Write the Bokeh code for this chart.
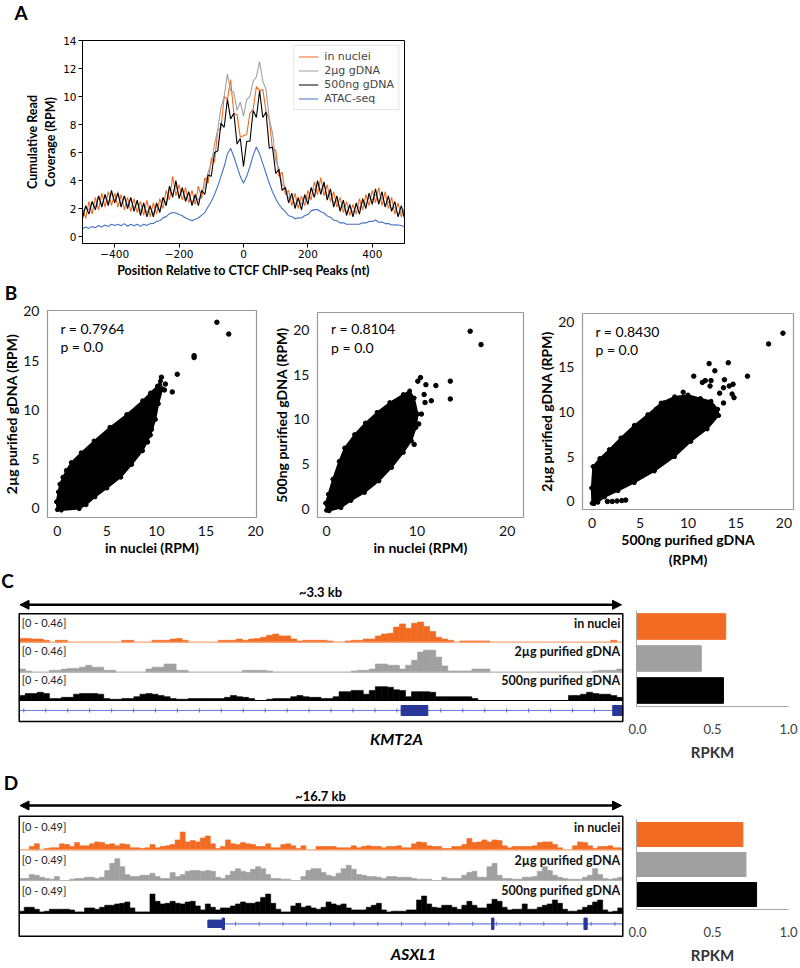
import numpy as np
from bokeh.plotting import figure
from bokeh.layouts import column, row
from bokeh.models import Range1d, FixedTicker, PrintfTickFormatter, Arrow, NormalHead
from bokeh.core.properties import value
from bokeh.embed import file_html
from bokeh.resources import INLINE

ORANGE = "#F26B23"; ORANGE_LT = "#F6A272"
GRAY = "#A0A0A0"; GRAY_LT = "#B5B5B5"
BLACK = "#000000"; BLUE = "#4472C4"
GENE_LINE = "#6B7BD6"; GENE_EXON = "#27379A"
FONT = "Lato"

# ---------------- Panel A data ----------------
pos_nt = list(range(-500, 501, 10))
cov_in_nuclei = [2.0,1.3,2.5,1.6,2.8,1.9,3.1,2.1,3.2,2.2,
                 3.1,2.1,3.0,1.9,2.8,1.8,2.7,1.7,2.5,1.5,
                 2.6,1.4,2.4,1.6,2.7,2.0,3.3,2.6,4.3,2.9,
                 3.7,2.6,3.5,2.4,3.3,2.3,3.6,2.7,4.2,3.8,
                 5.6,5.3,7.6,7.7,10.0,9.8,11.2,8.8,8.7,7.1,
                 7.2,7.3,8.8,9.1,10.7,10.4,10.5,8.9,8.4,6.2,
                 6.2,4.3,4.6,3.0,3.3,2.2,3.1,2.0,2.9,2.2,
                 3.3,2.6,3.9,3.0,4.2,2.9,3.7,2.5,3.2,2.1,
                 2.8,1.7,2.5,1.5,2.3,1.6,2.7,1.9,3.0,2.2,
                 3.3,2.4,3.5,2.2,3.2,2.0,2.8,1.6,2.4,1.4,
                 2.1]
cov_2ug = [1.7,2.1,1.9,2.5,2.0,2.9,2.2,3.0,2.4,3.1,
           2.5,3.2,2.3,2.9,2.2,2.7,2.0,2.5,1.8,2.3,
           1.7,2.1,1.6,2.2,1.9,2.7,2.4,3.4,3.0,3.7,
           2.9,3.3,2.7,3.1,2.4,2.9,2.6,3.2,3.5,4.6,
           5.2,6.6,7.6,9.2,10.0,11.6,10.4,10.3,9.0,9.6,
           8.6,9.8,10.0,11.1,11.4,12.5,11.1,10.5,8.4,7.4,
           5.4,4.9,3.7,3.5,2.7,2.8,2.3,2.6,2.3,2.8,
           2.7,3.3,3.3,3.7,3.3,3.7,2.9,3.1,2.4,2.6,
           2.0,2.2,1.7,2.1,1.7,2.2,2.0,2.5,2.3,2.8,
           2.6,3.0,2.5,2.8,2.2,2.5,1.9,2.1,1.5,1.8,
           1.4]
cov_500ng = [1.3,2.2,1.6,2.5,1.9,2.9,2.1,3.0,2.2,3.3,
             2.4,3.1,2.1,2.9,2.0,2.8,1.8,2.6,1.5,2.4,
             1.4,2.2,1.4,2.4,1.7,2.8,2.2,3.6,2.8,4.0,
             2.7,3.5,2.5,3.2,2.2,3.0,2.2,3.3,3.0,4.4,
             4.3,6.0,6.1,8.1,7.8,9.8,8.4,8.8,6.6,7.0,
             5.0,6.8,6.8,9.0,8.5,10.4,8.5,8.9,6.3,6.4,
             4.5,4.8,3.3,3.5,2.4,3.1,2.0,2.8,1.9,3.0,
             2.3,3.5,2.8,4.0,3.0,3.9,2.6,3.4,2.1,2.9,
             1.8,2.6,1.5,2.3,1.4,2.4,1.6,2.7,2.0,3.1,
             2.3,3.4,2.3,3.2,2.1,2.9,1.8,2.5,1.4,2.2,
             1.3]
cov_atac = [0.55,0.68,0.58,0.72,0.63,0.78,0.68,0.83,0.72,0.88,
            0.78,0.88,0.77,0.92,0.73,0.88,0.77,0.88,0.72,0.88,
            0.78,0.92,0.93,1.08,1.12,1.33,1.42,1.63,1.72,1.68,
            1.57,1.48,1.32,1.23,1.12,1.23,1.32,1.53,1.72,2.13,
            2.5,3.0,3.6,4.3,5.0,5.9,6.3,5.7,5.0,4.3,
            3.8,4.3,5.0,5.8,6.4,5.9,5.2,4.5,3.8,3.2,
            2.7,2.3,2.0,1.78,1.48,1.43,1.27,1.33,1.32,1.48,
            1.57,1.83,1.92,1.93,1.77,1.68,1.47,1.38,1.17,1.13,
            0.97,0.98,0.87,0.88,0.87,0.88,0.87,0.98,0.97,1.08,
            1.07,1.18,1.02,1.03,0.92,0.93,0.82,0.83,0.82,0.78,
            0.7]
series_a_names = ["in nuclei", "2µg gDNA", "500ng gDNA", "ATAC-seq"]
a_xticks = [-400, -200, 0, 200, 400]
a_yticks = [0, 2, 4, 6, 8, 10, 12, 14]

# ---------------- Panel B data ----------------
b1_blob_x = [0.0,-0.1,0.1,0.25,0.55,0.9,1.4,2.4,3.7,5.3,7.0,8.6,9.4,10.1,10.4,
             10.6,10.2,9.9,9.4,8.6,7.5,6.4,5.0,3.8,2.9,2.2,0.4]
b1_blob_y = [-0.2,0.6,1.6,2.4,3.1,3.8,4.6,5.6,6.8,8.2,9.5,10.9,11.7,12.4,12.9,
             12.1,10.6,9.0,7.4,5.8,4.4,3.1,2.0,1.1,0.3,-0.1,-0.25]
b1_out_x = [16.1,17.3,13.8,13.8,12.1,11.6,10.8,10.9,10.5,9.1,9.3,10.2,9.5]
b1_out_y = [18.9,17.7,15.5,15.3,13.6,11.8,12.0,12.6,13.3,6.7,7.5,11.5,8.0]

b2_blob_x = [0.0,-0.1,0.2,0.7,1.4,2.0,3.1,4.3,5.6,7.0,8.5,9.2,
             9.7,10.1,9.9,9.4,8.5,7.2,5.8,4.2,2.7,1.6,0.3]
b2_blob_y = [-0.2,0.6,1.6,3.3,5.3,6.8,8.3,9.6,10.8,11.9,12.8,13.2,
             12.4,10.6,9.1,7.6,6.3,4.6,3.1,1.8,0.9,0.1,-0.25]
b2_out_x = [15.9,17.1,13.7,13.7,12.1,11.0,10.4,10.1,10.8,11.6,10.9,9.7,10.5,10.2]
b2_out_y = [19.9,18.4,14.3,12.3,13.8,13.9,14.7,14.3,12.8,12.1,11.9,7.2,10.6,9.5]

b3_blob_x = [0.0,-0.05,0.1,0.8,1.8,3.0,4.4,5.8,7.2,8.6,10.0,11.3,12.4,13.1,13.2,
             12.0,10.3,8.6,6.5,4.4,2.7,1.3,0.6,0.2]
b3_blob_y = [-0.2,1.5,3.9,4.8,5.8,7.1,8.5,9.7,11.0,11.7,11.9,11.5,11.2,10.3,9.6,
             8.1,6.7,5.0,3.4,2.1,1.2,0.5,-0.1,-0.25]
b3_out_x = [19.9,18.4,16.2,14.2,12.2,12.8,10.6,11.8,12.4,13.8,14.3,14.7,13.7,14.8,14.6,
            13.7,13.3,9.5,7.5,6.7,12.3,11.5,1.6,2.1,2.6,3.1,3.5]
b3_out_y = [18.8,17.6,14.0,15.5,15.4,14.6,14.0,13.5,13.5,13.6,12.9,13.1,12.7,11.6,12.0,
            11.0,12.1,12.2,11.0,10.3,12.9,13.3,0.0,0.0,0.05,0.1,0.15]
corr_r = [0.7964, 0.8104, 0.8430]
corr_p = [0.0, 0.0, 0.0]

# ---------------- Panel C / D data ----------------
track_names = ["in nuclei", "2µg purified gDNA", "500ng purified gDNA"]
kmt2a_span_bp = 3300
kmt2a_bin_bp = 33
kmt2a_max = 0.46
kmt2a_nuclei = [.06,.06,.05,.05,.03,0,.03,.03,0,0,
                0,0,0,0,0,0,0,.03,.03,0,
                0,0,.03,.03,.03,.05,.06,.03,0,0,
                0,0,0,.03,.03,.03,.05,.03,.05,.06,
                .08,.11,.13,.10,.10,.05,.02,.03,.03,.03,
                .03,.02,0,0,.02,.03,.03,.05,.05,.10,
                .13,.14,.24,.29,.22,.30,.32,.25,.17,.08,
                .05,.03,0,.02,.02,.02,.02,.02,0,0,
                0,0,0,0,0,0,0,0,0,0,
                0,0,0,0,0,0,0,0,.03,0]
kmt2a_2ug = [.05,.02,0,0,0,.03,.03,.05,.06,.06,
             .08,.11,.08,.08,.03,.03,0,0,0,0,
             0,.05,.08,.08,.13,.13,.03,.03,0,0,
             0,0,0,0,0,0,0,.03,.03,.03,
             .03,.02,0,0,0,0,0,0,0,0,
             0,0,0,0,0,.02,.03,.03,.05,.13,
             .13,.11,.11,.05,.11,.19,.32,.35,.35,.24,
             .10,.02,.02,.02,.02,.05,.05,.05,0,0,
             0,0,0,0,0,0,0,0,0,0,
             0,0,0,0,0,.02,.03,.03,.03,.05]
kmt2a_500ng = [.08,.11,.11,.13,.11,.03,.03,.05,.05,.10,
               .11,.11,.11,.10,.03,.02,.02,.03,.03,.06,
               .10,.11,.10,.08,.06,.03,.02,.02,.03,.03,
               .03,.03,.03,.03,.05,.08,.06,.05,.03,0,
               0,.02,.03,.03,.03,.06,.08,.06,.05,.05,
               .03,.03,.06,.14,.14,.16,.16,.10,.16,.22,
               .22,.21,.17,.16,.06,.14,.14,.14,.13,.06,
               .06,.06,.06,.06,.06,.03,0,0,0,0,
               0,0,0,0,0,0,0,0,0,0,
               0,.08,.08,.10,.13,.11,.10,.10,.08,.05]
kmt2a_exons = [(2088, 2234), (3245, 3300)]
kmt2a_rpkm = [0.587, 0.426, 0.572]

asxl1_span_bp = 16700
asxl1_bin_bp = 16700 / 120
asxl1_max = 0.49
asxl1_nuclei = [0,0,.05,.09,0,.02,.03,.03,.09,.08,
                .05,.11,.06,.06,.09,.12,.11,.08,.09,.06,
                .09,.08,.03,.03,.02,.03,.08,.03,.05,.06,
                .08,.15,.27,.12,.14,.12,.18,.21,.09,.02,
                .05,.15,.09,.08,.11,.09,.08,.05,.05,.09,
                .03,.03,.08,.09,.06,.02,.06,0,0,.05,
                .05,.05,.05,.03,.03,.03,.06,.03,.05,.06,
                .05,.05,.03,.05,.05,.06,.03,.03,.09,.12,
                .11,.06,.05,.05,.02,.02,.05,.05,.08,.17,
                .11,.12,.15,.12,.15,.14,.06,.03,.05,.05,
                .05,.05,.06,.11,.12,.12,.08,.03,0,0,
                .06,.12,.11,.06,.02,.05,.05,.06,.03,.03]
asxl1_2ug = [.03,.03,.09,.08,.05,.03,.02,.06,0,0,
             .02,.03,.03,.05,.05,.03,.05,.15,.26,.33,
             .21,.09,.06,.06,.08,.08,.11,.06,.03,.03,
             .12,.06,.09,.14,.15,.15,.14,.15,.14,.05,
             .03,.08,.14,.18,.14,.12,.17,.21,.18,.09,
             .03,.03,.02,.02,0,0,.06,.15,.18,.18,
             .12,.08,.06,.11,.18,.23,.17,.09,.08,.06,
             .06,.05,.03,.06,.06,.05,.05,.05,.03,.02,
             .02,.02,0,0,.05,.03,.03,.03,.08,.12,
             .14,.05,.05,.21,.26,.08,.03,.03,.02,.02,
             .05,.05,.06,.14,.21,.15,.08,.05,.03,.02,
             .02,.02,.05,.08,.18,.09,.03,.02,.03,.05]
asxl1_500ng = [.03,.09,.09,.06,.02,.03,.06,.06,.06,.06,
               .05,.02,.02,.08,.08,.06,.09,.12,.12,.14,
               .15,.17,.08,.02,.02,.02,.29,.18,.14,.15,
               .18,.15,.14,.17,.18,.11,.05,.14,.09,.05,
               .08,.08,.11,.14,.17,.15,.15,.17,.24,.29,
               .15,.06,.02,.02,.11,.15,.09,.11,.08,.06,
               .09,.17,.14,.12,.14,.08,.05,.05,.05,.09,
               .12,.15,.05,.02,.03,.03,.03,.05,.05,.20,
               .26,.14,.09,.08,.12,.12,.09,.06,.12,.18,
               .12,.08,.08,.14,.21,.18,.09,.05,.06,.06,
               .14,.06,.06,.09,.12,.14,.20,.15,.06,.03,
               .03,.05,.09,.12,.17,.20,.05,.02,.03,.08]
asxl1_utr = [(5220, 5615)]
asxl1_exons = [(5615, 5680), (13070, 13135), (15625, 15715)]
asxl1_rpkm = [0.70, 0.72, 0.79]
rpkm_ticks = [0.0, 0.5, 1.0]


def base_fig(**kw):
    p = figure(output_backend="svg", toolbar_location=None, **kw)
    p.title.visible = False
    return p


def letter_fig(letter, top, h, cx, cy):
    p = base_fig(width=800, height=h, x_range=Range1d(0, 800), y_range=Range1d(0, h),
                 min_border=0, x_axis_location=None, y_axis_location=None)
    p.outline_line_color = None
    p.xgrid.visible = False
    p.ygrid.visible = False
    p.text(x=[cx], y=[h - (cy - top)], text=[letter], text_font=value(FONT),
           text_font_style="bold", text_font_size="19px", text_align="center",
           text_baseline="middle", text_color="black")
    return p


# ---------------- Panel A ----------------
pa = base_fig(width=420, height=246, x_range=Range1d(-500, 500), y_range=Range1d(-0.5, 14),
              min_border_left=82, min_border_right=16, min_border_top=6, min_border_bottom=32)
for ys, c, n in zip([cov_in_nuclei, cov_2ug, cov_500ng, cov_atac],
                    [ORANGE, GRAY, BLACK, BLUE], series_a_names):
    pa.line(pos_nt, ys, line_color=c, line_width=1.1, legend_label=n)
pa.xaxis.ticker = FixedTicker(ticks=a_xticks)
pa.yaxis.ticker = FixedTicker(ticks=a_yticks)
pa.xaxis.axis_label = "Position Relative to CTCF ChIP-seq Peaks (nt)"
pa.yaxis.axis_label = "Cumulative Read\nCoverage (RPM)"
for ax in pa.axis:
    ax.major_label_text_font = "DejaVu Sans"
    ax.major_label_text_font_size = "10.5px"
    ax.major_label_text_color = "black"
    ax.axis_label_text_font = FONT
    ax.axis_label_text_font_style = "bold"
    ax.axis_label_text_font_size = "12.5px"
    ax.axis_label_text_color = "black"
    ax.major_tick_out = 4
    ax.major_tick_in = 0
    ax.minor_tick_line_color = None
    ax.axis_line_color = "black"
    ax.major_label_standoff = 2
    ax.axis_label_standoff = 2
pa.grid.visible = False
pa.outline_line_color = "black"
pa.legend.location = "top_right"
pa.legend.margin = 5
pa.legend.padding = 4
pa.legend.spacing = 1
pa.legend.glyph_width = 20
pa.legend.glyph_height = 13
pa.legend.label_height = 13
pa.legend.label_standoff = 6
pa.legend.label_text_font = "DejaVu Sans"
pa.legend.label_text_font_size = "11px"
pa.legend.border_line_color = "#cccccc"
pa.legend.background_fill_alpha = 0.85


# ---------------- Panel B ----------------
def scatter_panel(width, bl, br, bt, bb, xr, yr, xticks, yticks, bx, by, ox, oy, idx,
                  sxy, xlabel, ylabel):
    p = base_fig(width=width, height=267, x_range=Range1d(*xr), y_range=Range1d(*yr),
                 min_border_left=bl, min_border_right=br, min_border_top=bt, min_border_bottom=bb)
    p.patch(bx, by, fill_color="black", line_color="black", line_width=1.5)
    p.scatter(bx, by, size=4, color="black")
    p.scatter(ox, oy, size=4.5, color="black")
    p.text(x=[sxy[0], sxy[0]], y=[sxy[1], sxy[2]],
           text=["r = %.4f" % corr_r[idx], "p = %.1f" % corr_p[idx]],
           text_font=value(FONT), text_font_size="14px", text_baseline="middle",
           text_color="black")
    p.xaxis.ticker = FixedTicker(ticks=xticks)
    p.yaxis.ticker = FixedTicker(ticks=yticks)
    p.xaxis.axis_label = xlabel
    p.yaxis.axis_label = ylabel
    for ax in p.axis:
        ax.major_label_text_font = FONT
        ax.major_label_text_font_size = "14px"
        ax.major_label_text_color = "#111111"
        ax.axis_label_text_font = FONT
        ax.axis_label_text_font_style = "bold"
        ax.axis_label_text_font_size = "14px"
        ax.axis_label_text_color = "black"
        ax.major_tick_line_color = None
        ax.minor_tick_line_color = None
        ax.axis_line_color = None
        ax.major_label_standoff = 2
        ax.axis_label_standoff = 0
    p.grid.visible = False
    p.outline_line_color = "#999999"
    p.outline_line_width = 1.2
    return p


pb1 = scatter_panel(270, 43, 14, 7, 53, (-1, 20.1), (-1, 20.1), [0, 5, 10, 15, 20], [0, 5, 10, 15, 20],
                    b1_blob_x, b1_blob_y, b1_out_x, b1_out_y, 0, (0.3, 18.3, 16.4),
                    "in nuclei (RPM)", "2µg purified gDNA (RPM)")
pb2 = scatter_panel(265, 43, 12, 9, 53, (-1, 21.8), (-1, 22), [0, 10, 20], [0, 5, 10, 15, 20],
                    b2_blob_x, b2_blob_y, b2_out_x, b2_out_y, 1, (0.5, 20.2, 18.05),
                    "in nuclei (RPM)", "500ng purified gDNA (RPM)")
pb3 = scatter_panel(265, 46, 7, 10, 55, (-1, 21), (-0.9, 21), [0, 5, 10, 15, 20], [0, 5, 10, 15, 20],
                    b3_blob_x, b3_blob_y, b3_out_x, b3_out_y, 2, (0.35, 19.0, 17.0),
                    "500ng purified gDNA\n(RPM)", "2µg purified gDNA (RPM)")

# ---------------- Panels C / D (genome tracks) ----------------
BOX_L, BOX_R = 18.7, 622.3


def track_panel(fig_top, fig_bottom, span_bp, bin_bp, covs, vmax, geo,
                utrs, exons, tick_start, tick_step, gene_start, gene_name, gene_cx, span_text,
                letter, letter_xy):
    H = fig_bottom - fig_top
    bpp = span_bp / (BOX_R - BOX_L)

    def X(px):
        return (px - BOX_L) * bpp

    def Y(py):
        return fig_bottom - py

    p = base_fig(width=628, height=H, x_range=Range1d(X(0), X(628)), y_range=Range1d(0, H),
                 min_border=0, x_axis_location=None, y_axis_location=None)
    p.outline_line_color = None
    p.xgrid.visible = False
    p.ygrid.visible = False

    p.text(x=[X(letter_xy[0])], y=[Y(letter_xy[1])], text=[letter], text_font=value(FONT),
           text_font_style="bold", text_font_size="19px", text_align="center",
           text_baseline="middle", text_color="black")

    colors = [ORANGE, GRAY, BLACK]
    base_cols = [ORANGE_LT, GRAY_LT, BLACK]
    for k, vals in enumerate(covs):
        v = np.array(vals, dtype=float)
        left = np.arange(len(v)) * bin_bp
        m = v > 0
        b = Y(geo["bases"][k])
        p.quad(left=left[m], right=left[m] + bin_bp, bottom=b,
               top=b + v[m] / vmax * geo["track_px"],
               fill_color=colors[k], line_color=colors[k], line_width=0.6)
        p.segment(x0=[X(BOX_L)], x1=[X(BOX_R)], y0=[b], y1=[b],
                  line_color=base_cols[k], line_width=1.2)
        p.text(x=[X(BOX_L + 2.5)], y=[Y(geo["label_ys"][k])],
               text=["[0 - %.2f]" % vmax], text_font=value(FONT), text_font_size="11px",
               text_baseline="middle", text_color="#222222")
        p.text(x=[X(BOX_R - 2.5)], y=[Y(geo["name_ys"][k])], text=[track_names[k]],
               text_font=value(FONT), text_font_style="bold", text_font_size="12.5px",
               text_align="right", text_baseline="middle", text_color="#111111")

    # gene model
    gy = Y(geo["gene_y"])
    p.segment(x0=[max(gene_start, X(BOX_L))], x1=[X(BOX_R)], y0=[gy], y1=[gy],
              line_color=GENE_LINE, line_width=1.2)
    ticks = np.arange(tick_start, span_bp, tick_step)
    blocks = list(utrs) + list(exons)
    ticks = [t for t in ticks if not any(a - 20 <= t <= b + 20 for a, b in blocks)]
    p.segment(x0=ticks, x1=ticks, y0=gy - 2, y1=gy + 2, line_color=GENE_LINE, line_width=1.2)
    if utrs:
        p.quad(left=[a for a, b in utrs], right=[b for a, b in utrs], bottom=gy - 3.7, top=gy + 3.7,
               fill_color=GENE_EXON, line_color=GENE_EXON)
    p.quad(left=[a for a, b in exons], right=[min(b, span_bp) for a, b in exons],
           bottom=gy - geo["exon_h"] / 2, top=gy + geo["exon_h"] / 2,
           fill_color=GENE_EXON, line_color=GENE_EXON)

    # outer box
    p.quad(left=[X(BOX_L)], right=[X(BOX_R)], bottom=[Y(geo["box_bottom"])], top=[Y(geo["box_top"])],
           fill_color=None, line_color="black", line_width=1.5)

    # span arrow and label
    p.add_layout(Arrow(start=NormalHead(size=9, fill_color="black", line_color="black"),
                       end=NormalHead(size=9, fill_color="black", line_color="black"),
                       x_start=X(19.5), x_end=X(621), y_start=Y(geo["arrow_y"]), y_end=Y(geo["arrow_y"]),
                       line_width=2.5, line_color="black"))
    p.text(x=[X(320)], y=[Y(geo["kb_y"])], text=[span_text], text_font=value(FONT),
           text_font_style="bold", text_font_size="13px", text_align="center",
           text_baseline="middle", text_color="black")
    p.text(x=[X(gene_cx)], y=[Y(geo["gene_text_y"])], text=[gene_name], text_font=value(FONT),
           text_font_style="bold italic", text_font_size="16px", text_align="center",
           text_baseline="middle", text_color="black")
    return p


def bar_panel(height, bt, bb, vals):
    n = len(track_names)
    p = base_fig(width=172, height=height, x_range=Range1d(0, 1.0), y_range=Range1d(0, n),
                 min_border_left=8, min_border_right=12, min_border_top=bt, min_border_bottom=bb)
    ypos = [n - 0.5 - i for i in range(n)]
    p.hbar(y=ypos, right=vals, left=0, height=0.8, color=[ORANGE, GRAY, BLACK])
    p.xaxis.ticker = FixedTicker(ticks=rpkm_ticks)
    p.xaxis.formatter = PrintfTickFormatter(format="%.1f")
    p.xaxis.axis_label = "RPKM"
    p.xaxis.major_tick_line_color = None
    p.xaxis.minor_tick_line_color = None
    p.xaxis.major_label_standoff = 11
    p.xaxis.major_label_text_font = FONT
    p.xaxis.major_label_text_font_size = "13px"
    p.xaxis.major_label_text_color = "#404040"
    p.xaxis.axis_label_text_font = FONT
    p.xaxis.axis_label_text_font_style = "bold"
    p.xaxis.axis_label_text_font_size = "15px"
    p.xaxis.axis_label_text_color = "#333333"
    p.xaxis.axis_label_standoff = 6
    p.xaxis.axis_line_color = "#a6a6a6"
    p.yaxis.ticker = FixedTicker(ticks=[])
    p.yaxis.major_tick_line_color = None
    p.yaxis.minor_tick_line_color = None
    p.yaxis.major_label_standoff = 0
    p.yaxis.axis_line_color = "#a6a6a6"
    p.grid.visible = False
    p.outline_line_color = None
    return p


geo_c = dict(kb_y=591.7, arrow_y=604.3, box_top=613.3, box_bottom=721,
             bases=[641.7, 671.7, 700], label_ys=[621.7, 650, 679], name_ys=[622.7, 650.7, 680],
             gene_y=710, gene_text_y=738, track_px=29, exon_h=10)
geo_d = dict(kb_y=795, arrow_y=805, box_top=815.7, box_bottom=935.7,
             bases=[849.3, 880, 912.7], label_ys=[826, 859.3, 890], name_ys=[826.7, 860, 890],
             gene_y=923.3, gene_text_y=953, track_px=32.3, exon_h=11.5)

pc = track_panel(570, 768, kmt2a_span_bp, kmt2a_bin_bp,
                 [kmt2a_nuclei, kmt2a_2ug, kmt2a_500ng], kmt2a_max, geo_c,
                 [], kmt2a_exons, 25, 120, 0, "KMT2A", 396, "~3.3 kb", "C", (7, 580))
pcb = bar_panel(198, 40, 62, kmt2a_rpkm)

pd_ = track_panel(768, 966, asxl1_span_bp, asxl1_bin_bp,
                  [asxl1_nuclei, asxl1_2ug, asxl1_500ng], asxl1_max, geo_d,
                  asxl1_utr, asxl1_exons, 5985, 656, 5680, "ASXL1", 413, "~16.7 kb", "D", (10.5, 782))
pdb = bar_panel(198, 51, 49, asxl1_rpkm)

layout = column(
    row(letter_fig("A", 0, 34, 20.5, 12)),
    row(pa),
    row(letter_fig("B", 280, 23, 10.5, 291.5)),
    row(column(pb1), column(pb2), column(pb3)),
    row(column(pc), column(pcb)),
    row(column(pd_), column(pdb)),
)

open("out.html", "w").write(file_html(layout, INLINE, title="Figure"))
